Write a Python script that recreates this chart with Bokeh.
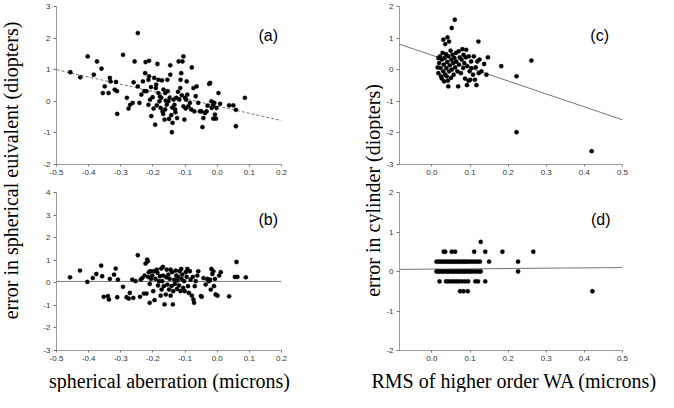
import math
from bokeh.plotting import figure
from bokeh.models import Range1d, FixedTicker, Label, NumeralTickFormatter
from bokeh.layouts import row, column
from bokeh.embed import file_html
from bokeh.resources import INLINE

# ---------------- data ----------------
# (a) error in spherical equivalent vs spherical aberration
a_x = [-0.457, -0.426, -0.403, -0.384, -0.374, -0.360, -0.356, -0.350, -0.338, -0.334,
       -0.332, -0.319, -0.315, -0.312, -0.311, -0.293, -0.281, -0.276, -0.271, -0.263,
       -0.260, -0.257, -0.247, -0.247, -0.242, -0.236, -0.231, -0.227, -0.224, -0.223,
       -0.220, -0.214, -0.212, -0.212, -0.214, -0.209, -0.205, -0.201, -0.198, -0.196,
       -0.193, -0.191, -0.190, -0.188, -0.186, -0.183, -0.183, -0.180, -0.176, -0.174,
       -0.172, -0.170, -0.167, -0.164, -0.162, -0.162, -0.157, -0.155, -0.154, -0.152,
       -0.150, -0.148, -0.146, -0.146, -0.143, -0.141, -0.139, -0.136, -0.133, -0.131,
       -0.127, -0.125, -0.120, -0.118, -0.115, -0.114, -0.112, -0.110, -0.108, -0.105,
       -0.105, -0.102, -0.100, -0.098, -0.095, -0.093, -0.090, -0.085, -0.081, -0.079,
       -0.074, -0.071, -0.067, -0.064, -0.059, -0.054, -0.049, -0.046, -0.043, -0.038,
       -0.033, -0.030, -0.025, -0.022, -0.018, -0.017, -0.013, -0.012, -0.009, -0.007,
       -0.004, -0.002, 0.004, 0.009, 0.037, 0.050, 0.058, 0.058, 0.086,
       -0.178, -0.160, -0.140, -0.122, -0.097, -0.206, -0.168, -0.130]
a_y = [0.92, 0.76, 1.42, 0.84, 1.26, 1.03, 0.26, 0.47, 0.26, 0.74,
       0.63, 0.37, 0.61, 0.32, -0.40, 1.47, 0.11, -0.23, -0.11, -0.05,
       0.60, 1.26, 0.47, 2.16, -0.05, 0.21, 0.63, 0.32, 0.89, 1.24,
       0.32, 0.68, 1.28, 0.79, -0.11, 0.05, -0.47, 0.13, -0.23, 0.74,
       -0.74, 0.42, 0.53, -0.13, 1.18, 0.68, 0.26, 0.00, -0.21, 0.11,
       0.66, -0.32, 0.37, -0.58, 0.26, -0.26, -0.11, 0.68, 0.32, 0.00,
       -0.56, 0.11, 1.14, 0.84, -0.44, -0.98, -0.68, 0.05, -0.11, -0.26,
       0.11, -0.53, 1.26, 0.05, 0.42, 0.68, 0.89, 0.19, 1.26, 1.42,
       -0.16, -0.58, 0.11, -0.23, 0.63, 0.21, -0.16, -0.05, -0.26, 1.07,
       0.42, -0.32, 0.16, 0.47, -0.05, -0.32, -0.32, -0.82, -0.53, -0.37,
       -0.32, -0.14, 0.55, 0.58, 0.00, -0.21, -0.14, -0.55, -0.05, -0.42,
       -0.55, -0.21, 0.26, -0.08, -0.13, -0.13, -0.27, -0.79, 0.11,
       0.15, 0.02, -0.20, 0.30, 0.05, 0.45, -0.40, -0.35]

# (b) residual error in spherical equivalent vs spherical aberration
b_x = [-0.458, -0.427, -0.404, -0.387, -0.376, -0.361, -0.358, -0.353, -0.340, -0.337,
       -0.334, -0.321, -0.316, -0.311, -0.309, -0.293, -0.282, -0.275, -0.272, -0.264,
       -0.261, -0.254, -0.247, -0.240, -0.238, -0.233, -0.228, -0.226, -0.223, -0.220,
       -0.218, -0.216, -0.215, -0.213, -0.210, -0.210, -0.208, -0.206, -0.202, -0.199,
       -0.197, -0.195, -0.192, -0.188, -0.186, -0.184, -0.181, -0.178, -0.176, -0.174,
       -0.173, -0.171, -0.169, -0.168, -0.166, -0.164, -0.160, -0.158, -0.157, -0.155,
       -0.152, -0.150, -0.148, -0.145, -0.145, -0.142, -0.140, -0.138, -0.137, -0.134,
       -0.132, -0.129, -0.127, -0.125, -0.124, -0.122, -0.119, -0.117, -0.114, -0.112,
       -0.111, -0.109, -0.106, -0.103, -0.101, -0.098, -0.095, -0.093, -0.091, -0.088,
       -0.085, -0.083, -0.079, -0.076, -0.074, -0.072, -0.070, -0.067, -0.062, -0.059,
       -0.051, -0.048, -0.043, -0.036, -0.031, -0.026, -0.022, -0.020, -0.018, -0.015,
       -0.012, -0.010, -0.007, -0.005, 0.001, 0.006, 0.011, 0.037, 0.055, 0.060,
       0.063, 0.089]
b_y = [0.24, 0.54, 0.04, 0.21, 0.39, 0.76, 0.29, -0.62, -0.59, -0.74,
       0.17, 0.36, 0.63, -0.64, 0.14, -0.18, -0.64, -0.70, -0.45, 0.14,
       -0.67, 0.07, 1.22, -0.62, 0.14, 0.21, -0.48, 0.32, 0.85, -0.48,
       1.03, 0.95, 0.26, 0.47, -0.05, -0.89, 0.51, 0.17, 0.32, -0.37,
       0.51, -0.77, 0.17, 0.58, 0.44, -0.12, 0.07, 0.29, -0.57, 0.63,
       -0.30, 0.07, 0.70, 0.32, -0.15, -0.96, -0.52, 0.24, 0.58, -0.08,
       0.36, -0.30, 0.17, 0.58, -0.57, -0.15, 0.47, -0.96, -0.37, 0.14,
       -0.05, 0.54, 0.32, -0.27, 0.10, 0.26, -0.12, 0.51, -0.37, 0.61,
       0.17, 0.36, -0.23, 0.07, -0.37, 0.47, 0.26, 0.61, -0.15, -0.45,
       0.51, 0.14, -0.57, 0.26, -0.74, -0.89, -0.15, 0.07, 0.32, 0.51,
       -0.59, -0.62, 0.21, -0.08, 0.17, 0.07, 0.14, -0.30, 0.61, 0.39,
       0.51, -0.15, 0.17, -0.52, -0.57, 0.32, 0.47, -0.60, 0.26, 0.92,
       0.26, 0.24]

# (c) error in cylinder vs RMS of higher order WA
c_x = [0.222, 0.419, 0.261, 0.222, 0.182, 0.147, 0.143, 0.122, 0.060, 0.052,
       0.041, 0.030, 0.035, 0.045,
       0.017, 0.019, 0.021, 0.023, 0.024, 0.026, 0.028, 0.030, 0.031, 0.033,
       0.035, 0.037, 0.038, 0.040, 0.042, 0.043, 0.043, 0.045, 0.047, 0.049,
       0.050, 0.051, 0.052, 0.054, 0.056, 0.057, 0.059, 0.061, 0.063, 0.064,
       0.067, 0.069, 0.070, 0.071, 0.073, 0.076, 0.078, 0.080, 0.082, 0.083,
       0.085, 0.087, 0.089, 0.090, 0.092, 0.093, 0.096, 0.097, 0.099, 0.101,
       0.103, 0.104, 0.108, 0.110, 0.113, 0.115, 0.117, 0.119, 0.123, 0.125,
       0.130, 0.137, 0.015, 0.017, 0.026, 0.032, 0.039]
c_y = [-1.98, -2.58, 0.29, -0.21, 0.11, 0.39, -0.16, 0.89, 1.58, 1.32,
       1.02, 0.95, 0.81, 0.89,
       -0.11, 0.21, 0.42, 0.05, -0.21, 0.32, 0.53, -0.05, 0.16, 0.37,
       -0.16, 0.49, 0.05, 0.24, -0.35, -0.53, 0.42, -0.05, 0.14, 0.60,
       -0.26, 0.32, 0.00, 0.47, 0.21, -0.16, 0.37, 0.07, 0.53, 0.26,
       -0.05, -0.53, 0.58, 0.16, 0.39, -0.11, 0.32, 0.65, 0.05, 0.47,
       0.21, -0.28, 0.39, 0.63, -0.49, 0.11, -0.35, 0.42, -0.05, -0.32,
       0.26, 0.05, -0.16, 0.42, -0.32, 0.07, -0.49, 0.26, -0.11, 0.32,
       -0.05, 0.18, 0.07, 0.37, -0.28, -0.37, -0.21]

# (d) residual error in cylinder vs RMS of higher order WA
d_x = [0.128,
       0.031, 0.035, 0.052, 0.061, 0.111, 0.140, 0.185, 0.266,
       0.012, 0.018, 0.022, 0.027, 0.031, 0.036, 0.041, 0.046, 0.050, 0.055,
       0.059, 0.064, 0.069, 0.073, 0.078, 0.083, 0.087, 0.092, 0.097, 0.103,
       0.108, 0.114, 0.120, 0.126, 0.150, 0.226,
       0.012, 0.017, 0.021, 0.026, 0.030, 0.035, 0.040, 0.044, 0.049, 0.054,
       0.058, 0.063, 0.068, 0.072, 0.077, 0.082, 0.086, 0.091, 0.096, 0.101,
       0.106, 0.112, 0.118, 0.124, 0.128, 0.226,
       0.020, 0.037, 0.043, 0.050, 0.057, 0.064, 0.071, 0.079, 0.087, 0.095,
       0.114, 0.121, 0.140,
       0.074, 0.083, 0.094, 0.421]
d_y = [0.75,
       0.5, 0.5, 0.5, 0.5, 0.5, 0.5, 0.5, 0.5,
       0.25, 0.25, 0.25, 0.25, 0.25, 0.25, 0.25, 0.25, 0.25, 0.25,
       0.25, 0.25, 0.25, 0.25, 0.25, 0.25, 0.25, 0.25, 0.25, 0.25,
       0.25, 0.25, 0.25, 0.25, 0.25, 0.25,
       0.0, 0.0, 0.0, 0.0, 0.0, 0.0, 0.0, 0.0, 0.0, 0.0,
       0.0, 0.0, 0.0, 0.0, 0.0, 0.0, 0.0, 0.0, 0.0, 0.0,
       0.0, 0.0, 0.0, 0.0, 0.0, 0.0,
       -0.25, -0.25, -0.25, -0.25, -0.25, -0.25, -0.25, -0.25, -0.25, -0.25,
       -0.25, -0.25, -0.25,
       -0.5, -0.5, -0.5, -0.5]

# regression lines (intercept, slope)
a_fit = (-0.15, -2.3)
b_fit = (0.06, 0.0)
c_fit = (0.46, -4.09)
d_fit = (0.06, 0.08)

# axes
sa_ticks = [-0.5, -0.4, -0.3, -0.2, -0.1, 0.0, 0.1, 0.2]
rms_ticks = [0.0, 0.1, 0.2, 0.3, 0.4, 0.5]
a_yticks = [-2, -1, 0, 1, 2, 3]
b_yticks = [-3, -2, -1, 0, 1, 2, 3, 4]
c_yticks = [-3, -2, -1, 0, 1, 2]
d_yticks = [-2, -1, 0, 1, 2]
rms_xmin = -0.085

panel_labels = ["(a)", "(b)", "(c)", "(d)"]
xlabel_left = "spherical aberration (microns)"
xlabel_right = "RMS of higher order WA (microns)"
ylabel_left = "error in spherical euivalent (diopters)"
ylabel_right = "error in cylinder (diopters)"

SERIF = "Liberation Serif"
SANS = "Liberation Sans"
AXIS_GRAY = "#9a9a9a"


def make_panel(xr, yr, xticks, yticks, xs, ys, fit, fit_dash, plabel, lab_pos,
               width, height, bl, br, bt, bb):
    p = figure(width=width, height=height, x_range=Range1d(*xr), y_range=Range1d(*yr),
               output_backend="svg", toolbar_location=None,
               min_border_left=bl, min_border_right=br, min_border_top=bt,
               min_border_bottom=bb)
    p.outline_line_color = None
    p.xgrid.visible = False
    p.ygrid.visible = False
    p.background_fill_color = "white"
    p.border_fill_color = "white"
    p.xaxis.ticker = FixedTicker(ticks=xticks)
    p.yaxis.ticker = FixedTicker(ticks=yticks)
    p.xaxis.formatter = NumeralTickFormatter(format="0.0")
    p.yaxis.formatter = NumeralTickFormatter(format="0")
    for ax in (p.xaxis[0], p.yaxis[0]):
        ax.axis_line_color = AXIS_GRAY
        ax.axis_line_width = 1
        ax.major_tick_line_color = "#777777"
        ax.major_tick_out = 3
        ax.major_tick_in = 0
        ax.minor_tick_line_color = None
        ax.major_label_text_font = SANS
        ax.major_label_text_font_size = "8px"
        ax.major_label_text_color = "#333333"
        ax.major_label_standoff = 3
    p.xaxis.major_tick_out = 2
    # regression line across the full x range
    lx = [xr[0], xr[1]]
    ly = [fit[0] + fit[1] * v for v in lx]
    p.line(lx, ly, line_color="#666666", line_width=0.9, line_dash=fit_dash)
    p.scatter(xs, ys, size=4.3, fill_color="black", line_color="black", line_width=0.3)
    p.add_layout(Label(x=lab_pos[0], y=lab_pos[1], text=plabel, text_font=SANS,
                       text_font_size="16px", text_align="center",
                       text_baseline="middle", text_color="black"))
    return p


def blank_fig(w, h):
    f = figure(width=w, height=h, x_range=Range1d(0, w), y_range=Range1d(0, h),
               output_backend="svg", toolbar_location=None, min_border=0,
               x_axis_location=None, y_axis_location=None)
    f.outline_line_color = None
    f.xgrid.visible = False
    f.ygrid.visible = False
    return f


def add_text(f, text, cx, cy_top, angle=0.0):
    f.add_layout(Label(x=cx, y=f.height - cy_top, text=text, angle=angle,
                       text_align="center", text_baseline="middle",
                       text_font=SERIF, text_font_size="20px", text_color="black"))


TOP_H = 185
BOT_H = 183
PLOTS_H = TOP_H + BOT_H
STRIP_H = 24

sa_range = (sa_ticks[0], sa_ticks[-1])
rms_range = (rms_xmin, rms_ticks[-1])

pa = make_panel(sa_range, (a_yticks[0], a_yticks[-1]), sa_ticks, a_yticks, a_x, a_y,
                a_fit, "3 2", panel_labels[0], (0.159, 2.08),
                262, TOP_H, 26, 11, 6, 21)
pb = make_panel(sa_range, (b_yticks[0], b_yticks[-1]), sa_ticks, b_yticks, b_x, b_y,
                b_fit, "solid", panel_labels[1], (0.159, 2.8),
                262, BOT_H, 26, 11, 7, 18)
pc = make_panel(rms_range, (c_yticks[0], c_yticks[-1]), rms_ticks, c_yticks, c_x, c_y,
                c_fit, "solid", panel_labels[2], (0.44, 1.08),
                251, TOP_H, 14, 12, 6, 21)
pd = make_panel(rms_range, (d_yticks[0], d_yticks[-1]), rms_ticks, d_yticks, d_x, d_y,
                d_fit, "solid", panel_labels[3], (0.443, 1.32),
                251, BOT_H, 14, 12, 7, 18)

lab_l = blank_fig(30, PLOTS_H)
add_text(lab_l, ylabel_left, 10, 170, math.pi / 2)
lab_r = blank_fig(91, PLOTS_H)
add_text(lab_r, ylabel_right, 80, 190, math.pi / 2)

strip = blank_fig(658, STRIP_H)
add_text(strip, xlabel_left, 169, 12)
add_text(strip, xlabel_right, 514, 12)

plots = row(lab_l, column(pa, pb, spacing=0), lab_r, column(pc, pd, spacing=0), spacing=0)
layout = column(plots, strip, spacing=0)

open("out.html", "w").write(file_html(layout, INLINE))
